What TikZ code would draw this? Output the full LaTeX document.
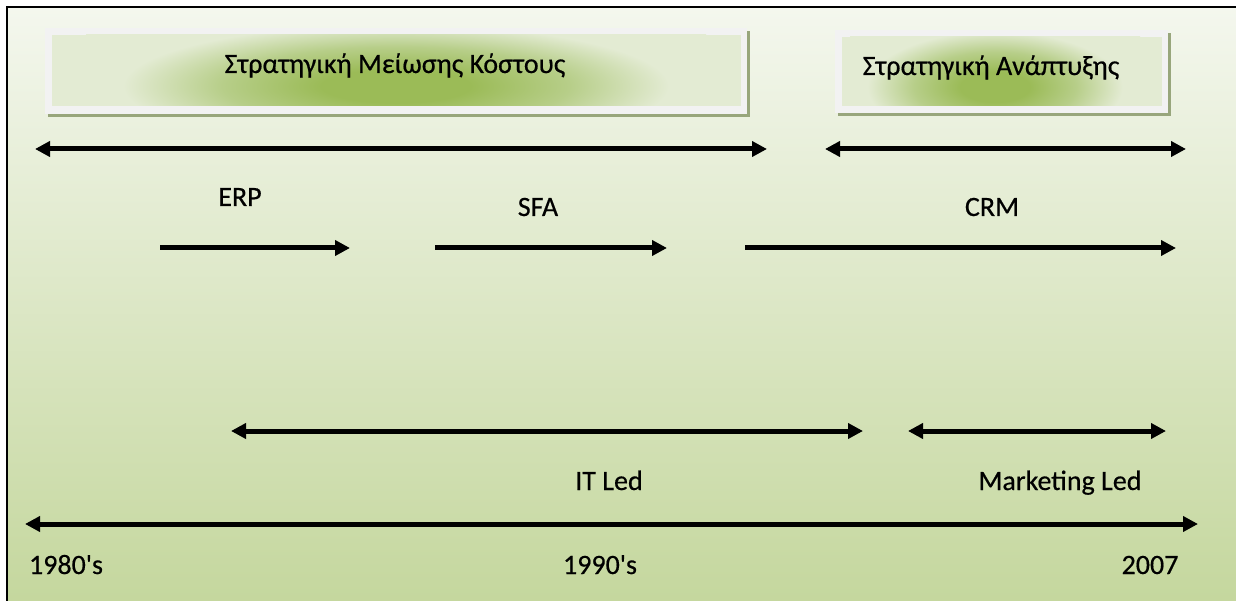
\documentclass[tikz,border=0pt]{standalone}
\usepackage{fontspec}
\setmainfont{Carlito}[FakeBold=0.5]
\usetikzlibrary{arrows.meta}

\definecolor{bgtop}{HTML}{F4F7EE}
\definecolor{bgbot}{HTML}{C3D69B}
\definecolor{glowin}{HTML}{9BBB57}
\definecolor{glowmid}{HTML}{B7CE89}
\definecolor{glowout}{HTML}{E3EBD3}
\definecolor{boxrim}{HTML}{F2F2F2}
\definecolor{boxshadow}{HTML}{98A67C}

% soft green glow used inside the two strategy banners
\pgfdeclareradialshading{glow}{\pgfpoint{0bp}{0bp}}{%
  color(0bp)=(glowin); color(6bp)=(glowin); color(14bp)=(glowmid);
  color(22bp)=(glowout); color(40bp)=(glowout)}

\tikzset{
  lbl/.style={font=\fontsize{28bp}{32bp}\selectfont, text=black, inner sep=0pt, anchor=base},
  onearrow/.style={line width=5bp, -{Triangle[length=15bp,width=15bp]}},
  twoarrow/.style={line width=5bp, {Triangle[length=15bp,width=15bp]}-{Triangle[length=15bp,width=15bp]}},
  banshadow/.style={fill=boxshadow},
  banrim/.style={fill=boxrim},
  banbase/.style={fill=glowout},
  banglow/.style={shading=glow}
}

\begin{document}
\begin{tikzpicture}[x=1bp,y=-1bp]
\useasboundingbox (0,0) rectangle (1236,601);
\clip (0,0) rectangle (1236,601);

% background panel
\fill[white] (-5,-5) rectangle (1260,620);
\shade[top color=bgtop, bottom color=bgbot] (7,7) rectangle (1260,620);
\draw[line width=2bp] (7,630) -- (7,7) -- (1270,7);

% banner: cost reduction strategy
\fill[banshadow] (48,31) rectangle (750,117);
\fill[banrim] (45,28) rectangle (747,114);
\fill[banbase] (52,35) rectangle (741,106);
\begin{scope}
  \clip (52,35) rectangle (741,106);
  \shade[banglow] (86,16) rectangle (706,156);
\end{scope}
\node[lbl] (cost) at (395,73) {Στρατηγική Μείωσης Κόστους};

% banner: growth strategy
\fill[banshadow] (838,33) rectangle (1171,116);
\fill[banrim] (835,30) rectangle (1168,113);
\fill[banbase] (842,37) rectangle (1162,106);
\begin{scope}
  \clip (842,37) rectangle (1162,106);
  \shade[banglow] (850,24) rectangle (1140,150);
\end{scope}
\node[lbl] (growth) at (991,75) {Στρατηγική Ανάπτυξης};

% arrow end points
\coordinate (costL) at (35,149);
\coordinate (costR) at (767,149);
\coordinate (growL) at (825,149);
\coordinate (growR) at (1186,149);
\coordinate (erpS) at (160,248);
\coordinate (erpE) at (350,248);
\coordinate (sfaS) at (435,248);
\coordinate (sfaE) at (667,248);
\coordinate (crmS) at (745,248);
\coordinate (crmE) at (1176,248);
\coordinate (itL) at (231,431);
\coordinate (itR) at (863,431);
\coordinate (mkL) at (908,431);
\coordinate (mkR) at (1166,431);
\coordinate (timeL) at (25,524);
\coordinate (timeR) at (1198,524);

\draw[twoarrow] (costL) -- (costR);
\draw[twoarrow] (growL) -- (growR);
\draw[onearrow] (erpS) -- (erpE);
\draw[onearrow] (sfaS) -- (sfaE);
\draw[onearrow] (crmS) -- (crmE);
\draw[twoarrow] (itL) -- (itR);
\draw[twoarrow] (mkL) -- (mkR);
\draw[twoarrow] (timeL) -- (timeR);

% labels
\node[lbl] (erp) at (240,206) {ERP};
\node[lbl] (sfa) at (538,216) {SFA};
\node[lbl] (crm) at (992,216) {CRM};
\node[lbl] (itled) at (609,490) {IT Led};
\node[lbl] (mkled) at (1060,490) {Marketing Led};
\node[lbl] (y1980) at (66,574) {1980\textquotesingle s};
\node[lbl] (y1990) at (600,574) {1990\textquotesingle s};
\node[lbl] (y2007) at (1150,574) {2007};
\end{tikzpicture}
\end{document}
